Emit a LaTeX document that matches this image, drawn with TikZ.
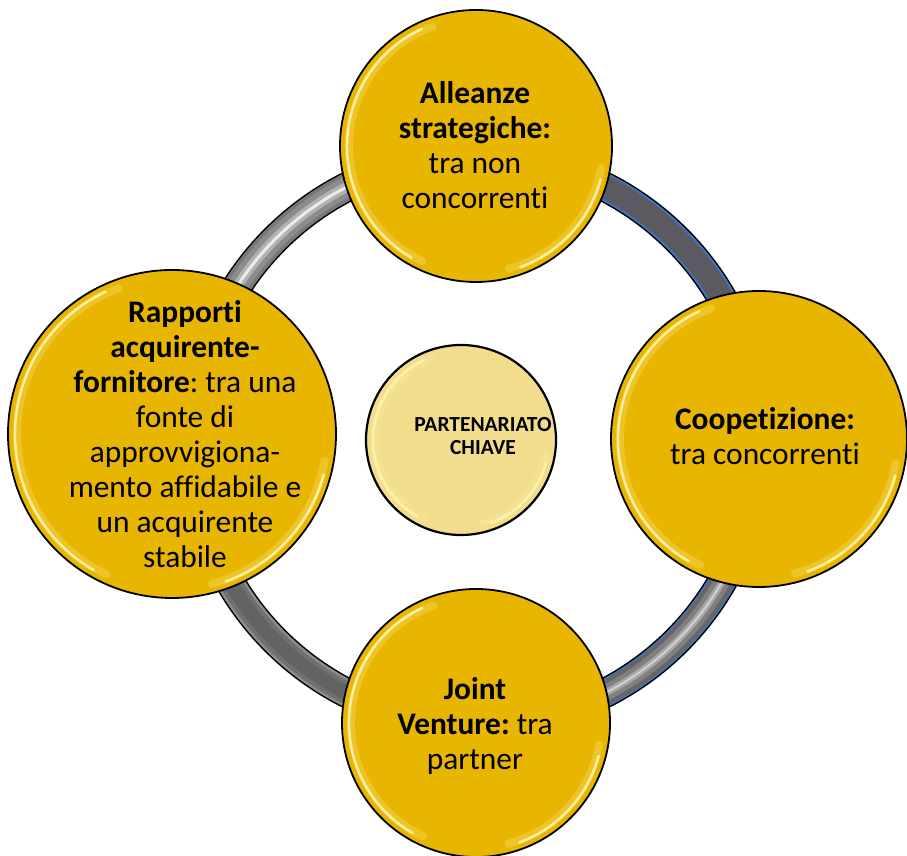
\documentclass[tikz,border=0pt]{standalone}
\usepackage{fontspec}
\setmainfont{Carlito}[Ligatures=NoCommon]
\definecolor{gold}{RGB}{232,181,0}
\definecolor{cream}{RGB}{241,221,141}
\definecolor{shine}{RGB}{255,244,170}
\definecolor{tube}{RGB}{90,90,96}
\definecolor{tubeblue}{RGB}{68,114,196}

\begin{document}
\frenchspacing
\begin{tikzpicture}[x=1pt, y=1pt,
		ball/.style={circle, draw=black, line width=1.8pt, fill=gold, inner sep=0pt},
		caption/.style={align=center, inner sep=0pt, font=\fontsize{31.4}{35}\selectfont},
		glow/.style={shine, line width=2.5pt, opacity=0.9, line cap=round},
		haze/.style={shine, line width=8pt, opacity=0.25, line cap=round}]
		\useasboundingbox (0,0) rectangle (907,856);
		
		%ring
		\coordinate (hub) at (476,416);
		\foreach \w/\col in {30/black, 27/tubeblue, 23/tube}{
			\draw[draw=\col, line width=\w pt] ([shift={(0:284)}]hub) arc[start angle=0, end angle=90, radius=284pt];
		}
		\foreach \w/\col in {30/black, 27/black!53, 20/black!45, 10/black!30, 3/black!8}{
			\draw[draw=\col, line width=\w pt] ([shift={(90:284)}]hub) arc[start angle=90, end angle=180, radius=284pt];
		}
		\foreach \w/\col in {30/black, 27/black!45, 22/black!56, 14/black!61}{
			\draw[draw=\col, line width=\w pt] ([shift={(180:284)}]hub) arc[start angle=180, end angle=270, radius=284pt];
		}
		\foreach \w/\col in {30/black, 27/tubeblue, 24/black!60, 16/black!50, 7/black!35, 2/black!18}{
			\draw[draw=\col, line width=\w pt] ([shift={(270:284)}]hub) arc[start angle=270, end angle=360, radius=284pt];
		}
		
		%circles
		\node[ball, minimum size=272pt] (alleanze) at (476,710) {};
		\node[ball, minimum size=296pt] (coopetizione) at (759,417) {};
		\node[ball, minimum size=268pt] (joint) at (476,133) {};
		\node[ball, minimum size=328pt] (rapporti) at (172,422) {};
		\node[ball, fill=cream, line width=2.2pt, minimum size=190pt] (partenariato) at (461,416) {};
		
		\foreach \n/\r in {alleanze/136, coopetizione/148, joint/134, rapporti/164, partenariato/95}{
			\draw[haze] ([shift={(110:\r pt-9pt)}]\n.center) arc[start angle=110, end angle=245, radius=\r pt-9pt];
			\draw[glow] ([shift={(115:\r pt-7pt)}]\n.center) arc[start angle=115, end angle=240, radius=\r pt-7pt];
			\draw[haze] ([shift={(-75:\r pt-9pt)}]\n.center) arc[start angle=-75, end angle=-10, radius=\r pt-9pt];
			\draw[glow] ([shift={(-70:\r pt-7pt)}]\n.center) arc[start angle=-70, end angle=-15, radius=\r pt-7pt];
		}
		
		%texts
		\node[caption] (alleanzetxt) at (475,711) {\textbf{Alleanze}\\\textbf{strategiche:}\\tra non\\concorrenti};
		\node[caption] (coopetizionetxt) at (765,420) {\textbf{Coopetizione:}\\tra concorrenti};
		\node[caption] (jointtxt) at (475,130) {\textbf{Joint}\\\textbf{Venture:} tra\\partner};
		\node[caption] (rapportitxt) at (185,422) {\textbf{Rapporti}\\\textbf{acquirente-}\\\textbf{fornitore}: tra una\\fonte di\\approvvigiona-\\mento affidabile e\\un acquirente\\stabile};
		\node[caption, font=\bfseries\fontsize{21.5}{23.5}\selectfont] (partenariatotxt) at (483,420) {PARTENARIATO\\CHIAVE};
\end{tikzpicture}
\end{document}
